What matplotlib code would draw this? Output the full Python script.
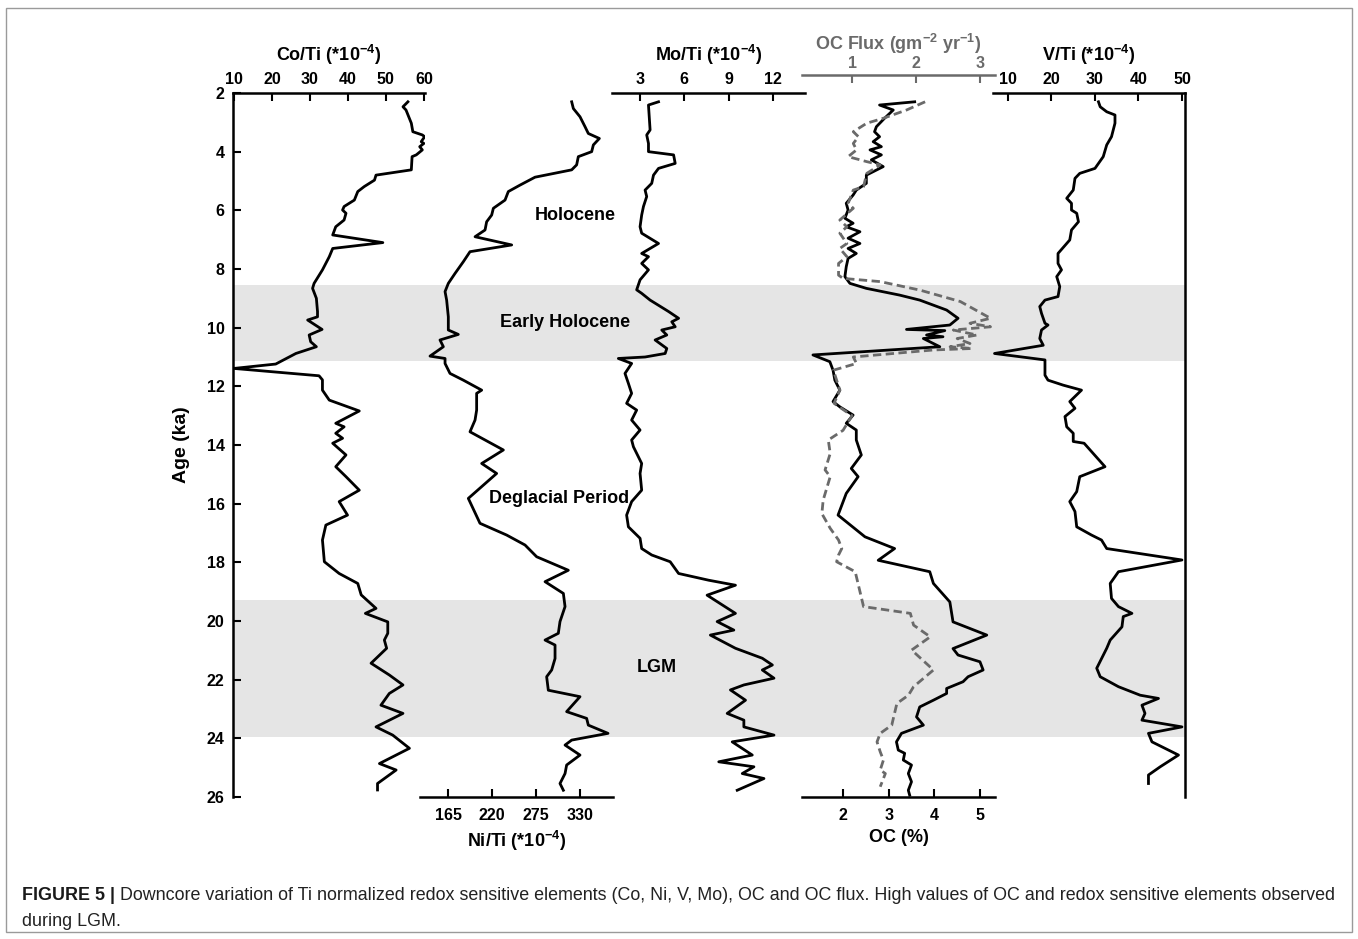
import matplotlib
matplotlib.use('Agg')
import matplotlib.pyplot as plt
from matplotlib.patches import Rectangle

plt.rcParams['font.family'] = ['Liberation Sans', 'DejaVu Sans']
plt.rcParams['font.weight'] = 'bold'
plt.rcParams['axes.labelweight'] = 'bold'
plt.rcParams['mathtext.fontset'] = 'custom'
plt.rcParams['mathtext.rm'] = 'Liberation Sans:bold'
plt.rcParams['mathtext.bf'] = 'Liberation Sans:bold'
plt.rcParams['mathtext.it'] = 'Liberation Sans:bold'

# ---- downcore data (age in ka) ----
co_age = [2.30, 2.47, 2.58, 3.03, 3.32, 3.43, 3.49, 3.66, 3.72, 3.83, 3.94, 4.11, 4.17, 4.62, 4.80,
          4.97, 5.19, 5.36, 5.65, 5.87, 5.99, 6.10, 6.33, 6.56, 6.84, 7.10, 7.30, 7.58, 8.03, 8.49,
          8.66, 9.00, 9.45, 9.63, 9.74, 10.06, 10.25, 10.48, 10.65, 10.88, 11.24, 11.39, 11.64, 11.78,
          12.13, 12.47, 12.84, 13.26, 13.38, 13.60, 13.77, 13.94, 14.34, 14.74, 15.08, 15.54, 15.93,
          16.39, 16.73, 17.24, 17.98, 18.38, 18.72, 19.11, 19.57, 19.74, 20.03, 20.42, 20.65, 20.93,
          21.44, 21.84, 22.18, 22.47, 22.87, 23.15, 23.61, 23.89, 24.34, 24.86, 25.08, 25.54, 25.76]
co_val = [55.8, 54.5, 55.3, 56.7, 57.1, 59.6, 60.2, 59.3, 60.0, 58.9, 59.6, 58.0, 56.9, 56.7, 47.4,
          47.0, 44.3, 42.6, 41.7, 39.0, 38.6, 39.5, 39.0, 36.8, 36.0, 49.2, 36.0, 35.1, 33.3, 31.1,
          30.7, 31.7, 32.0, 32.0, 29.4, 33.2, 29.8, 30.2, 31.7, 26.3, 21.0, 10.0, 32.4, 33.3,
          33.3, 35.1, 43.0, 36.8, 39.0, 36.8, 38.6, 36.0, 39.5, 36.8, 39.5, 43.0, 37.7,
          39.9, 34.2, 33.3, 33.8, 37.7, 42.6, 43.5, 47.4, 44.6, 50.5, 50.5, 49.6, 50.2,
          46.1, 50.9, 54.5, 50.9, 48.7, 54.5, 47.4, 51.8, 56.2, 48.3, 52.7, 47.8, 47.8]

ni_age = [2.30, 2.53, 2.81, 3.15, 3.38, 3.55, 3.77, 4.00, 4.17, 4.45, 4.62, 4.87, 5.14, 5.36, 5.65,
          5.93, 6.16, 6.39, 6.67, 6.90, 7.18, 7.41, 7.75, 8.15, 8.49, 8.77, 9.06, 9.63, 10.08, 10.23,
          10.42, 10.65, 10.97, 11.05, 11.22, 11.56, 11.79, 12.13, 12.24, 12.81, 13.15, 13.55, 14.17,
          14.63, 14.97, 15.82, 16.67, 17.07, 17.41, 17.81, 18.27, 18.66, 19.06, 19.51, 20.02, 20.42,
          20.65, 20.82, 21.28, 21.67, 21.90, 22.36, 22.58, 23.09, 23.32, 23.55, 23.83, 24.06, 24.23,
          24.57, 24.91, 25.20, 25.54, 25.77]
ni_val = [319.6, 321.7, 330.0, 336.3, 340.4, 354.2, 346.7, 344.6, 327.9, 325.8, 319.6, 273.8, 255.0,
          240.4, 236.3, 221.7, 219.6, 213.3, 211.3, 198.8, 244.6, 192.5, 184.2, 173.8, 165.4, 161.3,
          163.3, 165.4, 165.4, 177.9, 155.0, 159.2, 142.5, 161.3, 161.3, 167.5, 184.2, 207.1, 200.8,
          200.8, 198.8, 192.5, 234.2, 207.1, 225.8, 190.4, 205.0, 238.3, 261.3, 275.8, 315.4, 286.3,
          309.2, 311.3, 305.0, 302.9, 286.3, 298.8, 298.8, 294.6, 288.3, 290.4, 330.0, 313.3, 338.3,
          340.4, 365.0, 319.6, 311.3, 330.0, 313.3, 311.3, 305.0, 309.2]

mo_age = [2.30, 2.41, 3.26, 3.43, 3.72, 4.00, 4.11, 4.40, 4.57, 4.80, 5.08, 5.31, 5.53, 5.87, 6.16,
          6.56, 6.78, 7.13, 7.47, 7.58, 7.81, 8.03, 8.37, 8.71, 8.83, 9.06, 9.45, 9.68, 9.80, 9.97,
          10.08, 10.25, 10.42, 10.71, 10.88, 11.00, 11.05, 11.22, 11.56, 11.90, 12.24, 12.58, 12.81,
          13.15, 13.49, 13.83, 14.06, 14.63, 14.97, 15.54, 15.93, 16.39, 16.79, 17.18, 17.53, 17.75,
          17.98, 18.38, 18.61, 18.78, 19.12, 19.74, 20.02, 20.31, 20.48, 20.93, 21.27, 21.50, 21.67,
          21.95, 22.18, 22.35, 22.70, 23.15, 23.38, 23.61, 23.89, 24.12, 24.57, 24.80, 24.97, 25.20,
          25.37, 25.77]
mo_val = [4.25, 3.57, 3.68, 3.45, 3.57, 3.57, 5.27, 5.38, 4.25, 3.91, 3.79, 3.34, 3.45, 3.23, 3.11,
          3.00, 3.11, 4.25, 3.11, 3.57, 3.11, 3.57, 3.00, 2.77, 3.11, 3.68, 4.93, 5.61, 5.15, 5.38,
          4.47, 4.81, 4.02, 4.81, 4.70, 3.34, 1.53, 2.43, 1.98, 2.21, 2.43, 2.09, 2.77,
          2.43, 3.00, 2.43, 2.55, 3.11, 3.00, 3.11, 2.43, 2.09, 2.21, 3.00, 3.11, 3.79,
          5.04, 5.61, 7.65, 9.46, 7.54, 9.46, 8.22, 9.35, 7.76, 9.46, 11.28, 11.96, 11.28,
          12.07, 10.03, 9.12, 10.14, 8.90, 10.03, 10.03, 12.07, 9.24, 10.60, 8.33, 10.71, 9.92,
          11.39, 9.58]

oc_age = [2.30, 2.41, 2.58, 2.86, 3.15, 3.32, 3.49, 3.66, 3.83, 3.94, 4.11, 4.28, 4.51, 4.80, 5.08,
          5.31, 5.48, 5.76, 5.99, 6.27, 6.44, 6.56, 6.73, 6.95, 7.13, 7.30, 7.47, 7.64, 7.92, 8.26,
          8.49, 8.66, 8.89, 9.06, 9.40, 9.68, 9.91, 10.06, 10.10, 10.25, 10.31, 10.37, 10.65, 10.93,
          11.16, 11.45, 11.79, 12.13, 12.52, 12.70, 12.98, 13.26, 13.49, 13.83, 14.34, 14.80, 15.08,
          15.65, 16.39, 17.13, 17.53, 17.93, 18.32, 18.72, 19.35, 20.03, 20.48, 20.94, 21.16, 21.39,
          21.67, 21.90, 22.07, 22.30, 22.47, 22.70, 22.93, 23.27, 23.55, 23.83, 24.12, 24.40, 24.51,
          24.74, 24.91, 25.20, 25.48, 25.77, 25.94]
oc_val = [3.57, 2.80, 3.10, 2.91, 2.73, 2.69, 2.80, 2.66, 2.84, 2.59, 2.84, 2.62, 2.88, 2.51, 2.51,
          2.29, 2.22, 2.07, 2.11, 2.04, 2.22, 2.07, 2.37, 2.11, 2.37, 2.11, 2.29, 2.11, 2.07, 2.04,
          2.15, 2.51, 3.24, 3.68, 4.27, 4.52, 4.34, 3.39, 4.23, 3.83, 4.19, 3.76, 4.12, 1.34,
          1.71, 1.78, 1.82, 1.93, 1.78, 1.93, 2.22, 2.07, 2.29, 2.29, 2.40, 2.18, 2.33,
          2.07, 1.89, 2.48, 3.13, 2.77, 3.90, 3.98, 4.34, 4.41, 5.15, 4.41, 4.52, 5.00,
          5.07, 4.74, 4.63, 4.27, 4.27, 3.98, 3.68, 3.61, 3.76, 3.28, 3.17, 3.21, 3.35,
          3.32, 3.50, 3.43, 3.50, 3.43, 3.46]

flux_age = [2.30, 2.58, 2.86, 3.03, 3.32, 3.49, 3.72, 3.94, 4.17, 4.34, 4.45, 4.74, 5.19, 5.31, 5.76,
            5.93, 6.33, 6.56, 6.78, 7.13, 7.30, 7.58, 7.81, 8.21, 8.32, 8.43, 8.72, 9.11, 9.68, 9.85,
            9.97, 10.08, 10.25, 10.37, 10.54, 10.65, 10.71, 10.76, 11.00, 11.22, 11.45, 12.13, 12.58,
            13.00, 13.50, 13.83, 14.29, 14.85, 15.08, 15.88, 16.34, 16.84, 17.24, 17.53, 17.75, 17.98,
            18.32, 19.51, 19.74, 20.14, 20.54, 20.99, 21.67, 22.24, 22.53, 22.81, 23.27, 23.55, 23.83,
            24.12, 24.46, 24.74, 25.08, 25.20, 25.65]
flux_val = [2.14, 1.85, 1.49, 1.23, 1.02, 1.10, 1.02, 1.07, 0.94, 1.23, 1.44, 1.23, 1.18, 1.02, 0.94,
            1.02, 0.81, 0.92, 0.81, 0.92, 0.81, 0.92, 0.79, 0.79, 0.86, 1.44, 2.06, 2.69, 3.16, 2.84,
            3.16, 2.58, 2.95, 2.64, 2.84, 2.53, 2.87, 2.27, 1.02, 1.07, 0.71, 0.81, 0.72,
            1.00, 0.86, 0.63, 0.66, 0.58, 0.66, 0.55, 0.53, 0.66, 0.79, 0.84, 0.79, 0.76,
            1.05, 1.18, 1.91, 1.96, 2.22, 1.93, 2.27, 1.96, 1.88, 1.70, 1.65, 1.62, 1.44,
            1.39, 1.44, 1.49, 1.44, 1.52, 1.44]

v_age = [2.30, 2.47, 2.64, 2.75, 3.03, 3.49, 3.77, 4.17, 4.57, 4.74, 4.91, 5.31, 5.59, 5.76, 5.99,
         6.10, 6.39, 6.67, 7.01, 7.47, 7.81, 8.03, 8.26, 8.60, 8.94, 9.06, 9.28, 9.51, 9.85, 9.91,
         10.08, 10.37, 10.60, 10.88, 11.10, 11.62, 11.79, 11.96, 12.13, 12.52, 12.75, 13.03, 13.38,
         13.60, 13.88, 13.94, 14.74, 15.08, 15.59, 15.93, 16.27, 16.79, 17.07, 17.24, 17.53, 17.92,
         18.32, 18.72, 19.23, 19.51, 19.74, 19.85, 20.20, 20.65, 20.93, 21.61, 21.90, 22.24, 22.53,
         22.64, 22.87, 23.15, 23.38, 23.61, 23.83, 24.12, 24.57, 24.97, 25.25, 25.54]
v_val = [30.8, 31.2, 32.7, 34.6, 34.6, 33.8, 32.7, 31.9, 30.0, 26.5, 25.4, 25.0, 23.5, 24.6, 24.6,
         25.8, 26.2, 24.6, 24.2, 21.5, 21.5, 22.3, 21.2, 21.9, 21.5, 18.5, 17.3, 17.7, 18.5, 19.2,
         17.7, 17.3, 18.1, 6.9, 18.5, 18.5, 19.2, 22.7, 26.9, 24.2, 25.4, 23.1, 23.5,
         25.0, 25.0, 27.5, 32.3, 26.5, 25.8, 24.2, 25.4, 25.8, 29.2, 31.5, 32.7, 50.0,
         35.4, 33.5, 33.8, 35.4, 38.5, 36.5, 36.2, 33.5, 32.7, 30.4, 31.2, 35.4, 40.4,
         44.6, 40.8, 41.5, 40.8, 50.0, 42.3, 43.1, 49.2, 45.0, 42.3, 42.3]

# climate intervals (ka) and their labels
periods = [('Holocene', 6.19, 0.359), ('Early Holocene', 9.84, 0.3487),
           ('Deglacial Period', 15.84, 0.3424), ('LGM', 21.6, 0.445)]
shaded = [(8.55, 11.15), (19.3, 23.95)]

caption_head = 'FIGURE 5 |'
caption_1 = (' Downcore variation of Ti normalized redox sensitive elements (Co, Ni, V, Mo), '
             'OC and OC flux. High values of OC and redox sensitive elements observed')
caption_2 = 'during LGM.'

W, H = 1358, 939
TOP, BOT = 93, 797
LW_AX = 1.8
LW_LINE = 2.0
GREY = '#6a6a6a'
TICK_FS = 11.5
LABEL_FS = 13

fig = plt.figure(figsize=(W / 100, H / 100), dpi=100)


def px_axes(x0, x1):
    return fig.add_axes([x0 / W, 1 - BOT / H, (x1 - x0) / W, (BOT - TOP) / H])


def panel(x0, x1, xlim, ticks, side, label, color='black'):
    ax = px_axes(x0, x1)
    ax.patch.set_visible(False)
    ax.set_xlim(*xlim)
    ax.set_ylim(26, 2)
    for s in ax.spines.values():
        s.set_visible(False)
    ax.spines[side].set_visible(True)
    ax.spines[side].set_linewidth(LW_AX)
    ax.spines[side].set_color(color)
    ax.tick_params(axis='y', left=False, labelleft=False)
    ax.xaxis.set_ticks_position(side)
    ax.xaxis.set_label_position(side)
    ax.set_xticks(ticks)
    top = side == 'top'
    ax.tick_params(axis='x', direction='in', length=6, width=1.5, pad=4 if top else 8,
                   labelsize=TICK_FS, colors=color)
    ax.set_xlabel(label, fontsize=LABEL_FS, labelpad=8 if top else 4, color=color)
    return ax


# age axis and shaded intervals
base = px_axes(233, 1185)
base.set_xlim(0, 1)
base.set_ylim(26, 2)
for s in base.spines.values():
    s.set_visible(False)
base.spines['left'].set_visible(True)
base.spines['left'].set_linewidth(LW_AX)
base.set_xticks([])
base.set_yticks(range(2, 27, 2))
base.tick_params(axis='y', direction='in', length=6, width=1.5, pad=6, labelsize=TICK_FS)
base.set_ylabel('Age (ka)', fontsize=14, labelpad=12)
for a0, a1 in shaded:
    base.axhspan(a0, a1, color='#e5e5e5', lw=0, zorder=0)
for name, age, xf in periods:
    base.text(xf, age, name, ha='center', va='center', fontsize=13)

ax_co = panel(233, 425, (9.75, 60.3), range(10, 61, 10), 'top', r'Co/Ti (*10$^{-4}$)')
ax_co.plot(co_val, co_age, color='black', lw=LW_LINE)

ax_ni = panel(420, 613, (130, 371.25), [165, 220, 275, 330], 'bottom', r'Ni/Ti (*10$^{-4}$)')
ax_ni.plot(ni_val, ni_age, color='black', lw=LW_LINE)

ax_mo = panel(612, 805, (1.1, 14.17), [3, 6, 9, 12], 'top', r'Mo/Ti (*10$^{-4}$)')
ax_mo.plot(mo_val, mo_age, color='black', lw=LW_LINE)

# OC (bottom scale) with OC flux on a raised grey top scale
ax_oc = panel(802, 995, (1.10, 5.33), [2, 3, 4, 5], 'bottom', 'OC (%)')
ax_fx = ax_oc.twiny()
for s in ax_fx.spines.values():
    s.set_visible(False)
ax_fx.set_xlim(0.22, 3.23)
ax_fx.spines['top'].set_visible(True)
ax_fx.spines['top'].set_position(('outward', 13))
ax_fx.spines['top'].set_linewidth(LW_AX)
ax_fx.spines['top'].set_color(GREY)
ax_fx.set_xticks([1, 2, 3])
ax_fx.tick_params(axis='x', direction='in', length=6, width=1.5, pad=3,
                  labelsize=TICK_FS, colors=GREY)
ax_fx.set_xlabel(r'OC Flux (gm$^{-2}$ yr$^{-1}$)', fontsize=LABEL_FS, labelpad=4, color=GREY)
ax_fx.plot(flux_val, flux_age, color=GREY, lw=LW_LINE, dashes=(3, 1.6))
ax_oc.plot(oc_val, oc_age, color='black', lw=LW_LINE, zorder=3)

ax_v = panel(993, 1185, (6.55, 50.7), range(10, 51, 10), 'top', r'V/Ti (*10$^{-4}$)')
ax_v.spines['right'].set_visible(True)
ax_v.spines['right'].set_linewidth(LW_AX)
ax_v.plot(v_val, v_age, color='black', lw=LW_LINE)

# outer frame and caption
fig.add_artist(Rectangle((6 / W, 1 - 932 / H), 1346 / W, 924 / H, transform=fig.transFigure,
                         fill=False, edgecolor='#9a9a9a', lw=1))
cap = fig.text(22 / W, 1 - 895 / H, caption_head, fontsize=12.9, weight='bold',
               va='center', color='#1a1a1a')
fig.add_artist(plt.Annotation(caption_1, xy=(1, 0), xycoords=cap, va='bottom', ha='left',
                              fontsize=12.9, weight='normal', color='#222222',
                              annotation_clip=False))
fig.text(22 / W, 1 - 921 / H, caption_2, fontsize=12.9, weight='normal',
         va='center', color='#222222')

fig.savefig('out.png', dpi=100)
